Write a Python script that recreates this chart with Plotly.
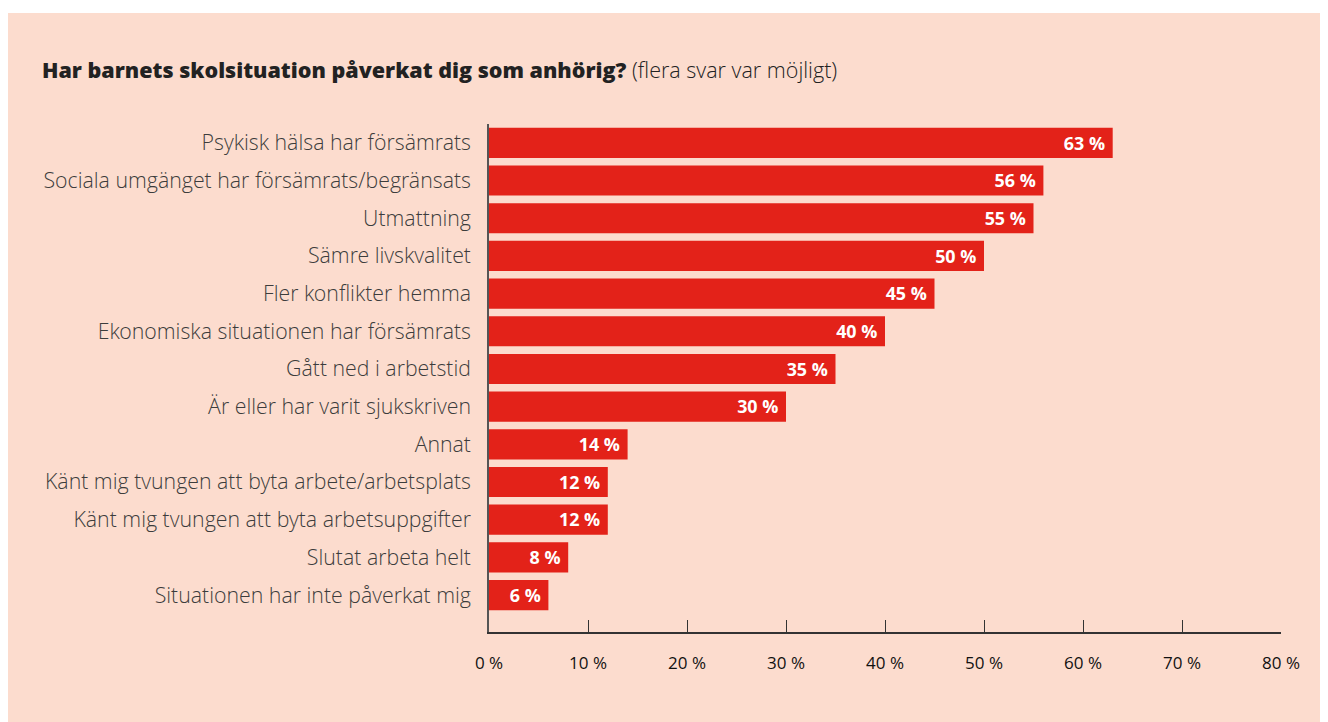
import plotly.graph_objects as go

# Data
categories = [
    "Psykisk hälsa har försämrats",
    "Sociala umgänget har försämrats/begränsats",
    "Utmattning",
    "Sämre livskvalitet",
    "Fler konflikter hemma",
    "Ekonomiska situationen har försämrats",
    "Gått ned i arbetstid",
    "Är eller har varit sjukskriven",
    "Annat",
    "Känt mig tvungen att byta arbete/arbetsplats",
    "Känt mig tvungen att byta arbetsuppgifter",
    "Slutat arbeta helt",
    "Situationen har inte påverkat mig",
]
values = [63, 56, 55, 50, 45, 40, 35, 30, 14, 12, 12, 8, 6]
tick_vals = [0, 10, 20, 30, 40, 50, 60, 70, 80]
tick_text = [f"{v} %" for v in tick_vals]

BG = "#FCDCCE"
RED = "#E32219"

W, H = 1328, 722
L, R, T, B = 481, 55, 116, 98
PW, PH = W - L - R, H - T - B

fig = go.Figure(go.Bar(
    x=values,
    y=categories,
    orientation="h",
    marker_color=RED,
    marker_line=dict(width=0),
    width=0.8,
    text=[f"{v} %\u00a0" for v in values],
    textposition="inside",
    insidetextanchor="end",
    textangle=0,
    textfont=dict(family="Open Sans", size=20, color="white", weight=700),
    cliponaxis=False,
    hoverinfo="skip",
))

# peach panel
fig.add_shape(type="rect", xref="paper", yref="paper", layer="below",
              x0=-L / PW, x1=(W - L) / PW,
              y0=-B / PH, y1=(H - 5 - B) / PH,
              fillcolor=BG, line=dict(width=0))

fig.add_annotation(
    xref="paper", yref="paper", x=(32 - L) / PW, y=(H - B - 62) / PH,
    xanchor="left", yanchor="middle", showarrow=False,
    text="<span style='font-weight:800'>Har barnets skolsituation påverkat dig som anhörig?</span>"
         "<span style='font-weight:300'> (flera svar var möjligt)</span>",
    font=dict(family="Open Sans", size=21.5, color="#222222"),
)

fig.update_layout(
    width=W, height=H,
    paper_bgcolor="white",
    plot_bgcolor="rgba(0,0,0,0)",
    margin=dict(l=L, r=R, t=T, b=B),
    showlegend=False,
    bargap=0.2,
    xaxis=dict(
        range=[0, 80], tickvals=tick_vals, ticktext=tick_text,
        showgrid=False, zeroline=False,
        showline=True, linecolor="#333333", linewidth=1.5,
        ticks="inside", ticklen=12, tickcolor="#333333", tickwidth=1,
        tickfont=dict(family="Open Sans", size=17, color="#111111"),
        ticklabelstandoff=15,
    ),
    yaxis=dict(
        range=[12.98, -0.5],
        showgrid=False, zeroline=False,
        showline=True, linecolor="#555555", linewidth=1.5,
        ticks="", ticklabelstandoff=12,
        tickfont=dict(family="Open Sans Light, Open Sans", size=21.3, color="#3c3c3c", weight=300),
    ),
)

fig.write_html("out.html")
